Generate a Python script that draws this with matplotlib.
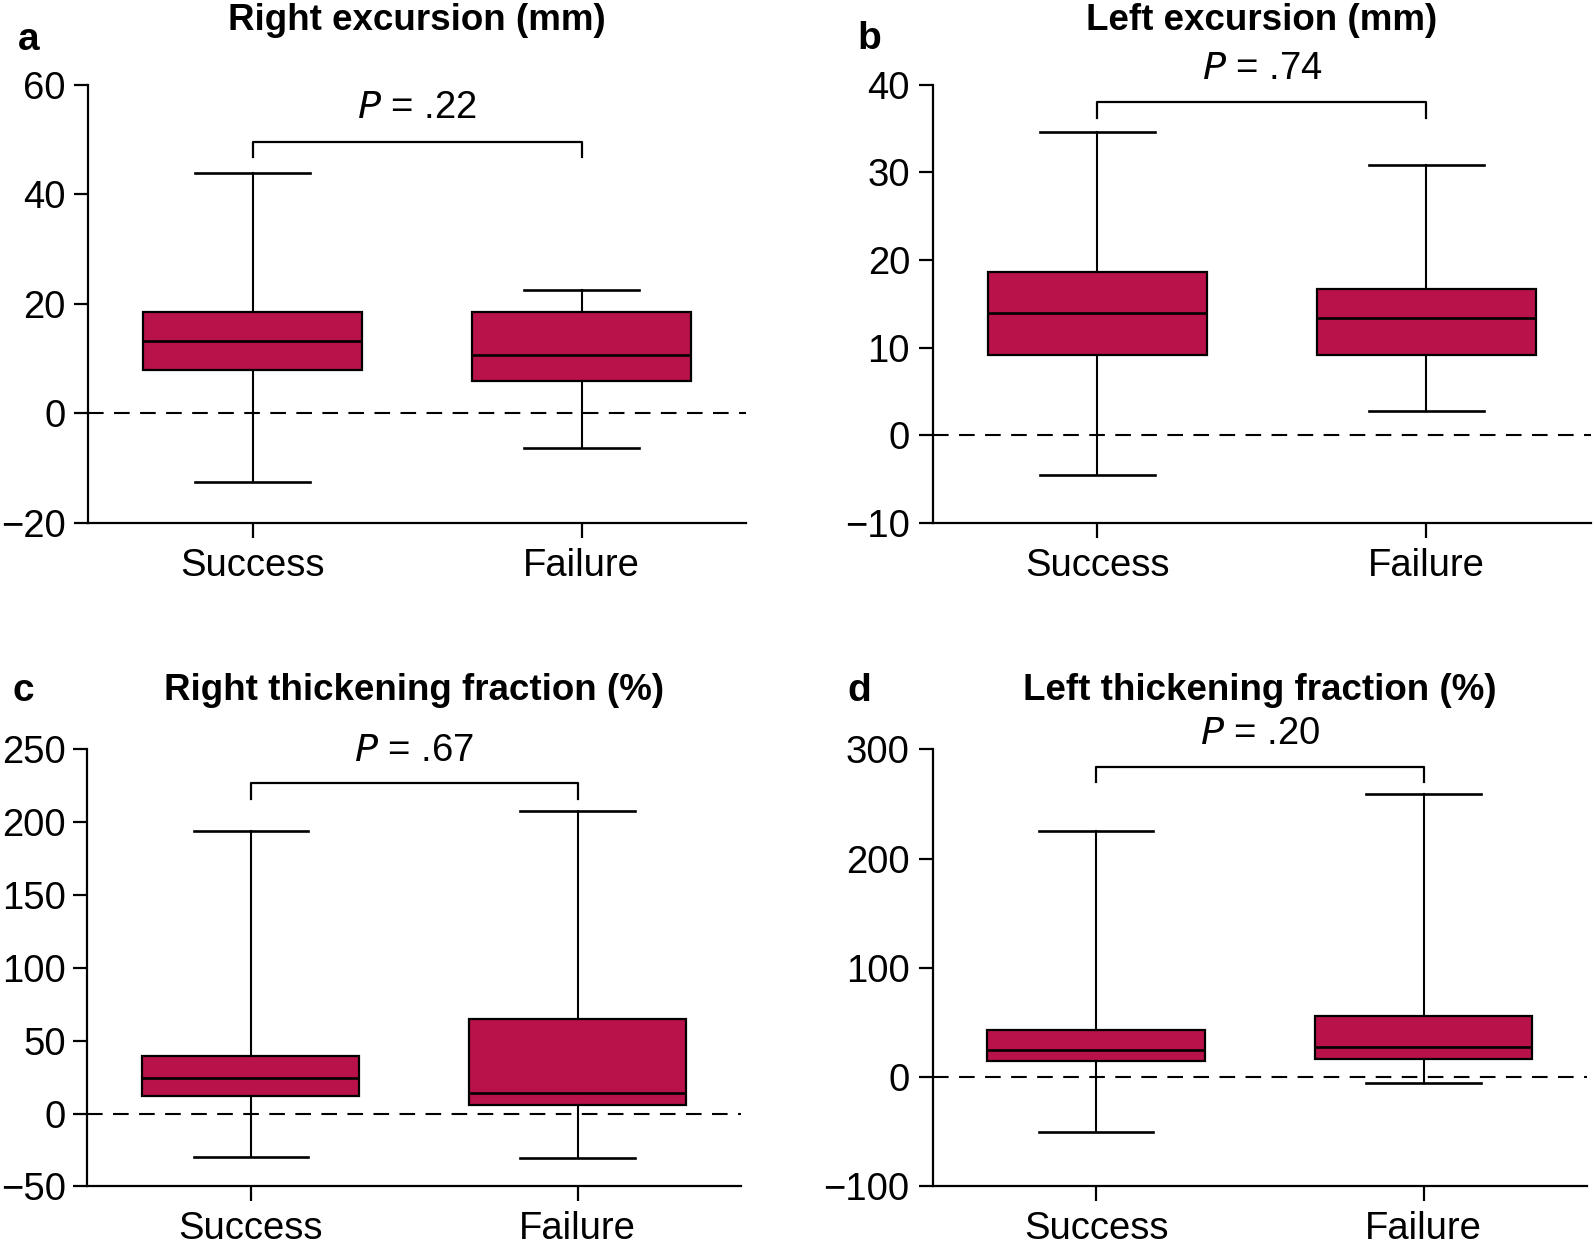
import matplotlib
matplotlib.use("Agg")
import matplotlib.pyplot as plt

plt.rcParams['font.family'] = ['Liberation Sans', 'DejaVu Sans']

groups = ["Success", "Failure"]

titles = ["Right excursion (mm)", "Left excursion (mm)",
          "Right thickening fraction (%)", "Left thickening fraction (%)"]
panel_letters = ["a", "b", "c", "d"]
p_labels = [".22", ".74", ".67", ".20"]

# box stats per panel: [Success, Failure]
whislo = [[-12.6, -6.3], [-4.5, 2.8], [-30.0, -30.8], [-50.3, -5.2]]
q1 =     [[7.9, 6.0], [9.15, 9.15], [11.8, 5.8], [15.1, 16.1]]
med =    [[13.25, 10.7], [14.0, 13.35], [24.1, 14.3], [24.6, 27.8]]
q3 =     [[18.5, 18.5], [18.6, 16.7], [39.7, 64.6], [43.2, 56.3]]
whishi = [[43.9, 22.6], [34.6, 30.8], [194.0, 207.3], [225.5, 259.0]]

yticks = [[-20, 0, 20, 40, 60], [-10, 0, 10, 20, 30, 40],
          [-50, 0, 50, 100, 150, 200, 250], [-100, 0, 100, 200, 300]]
ylims = [(-20, 60), (-10, 40), (-50, 250), (-100, 300)]

bracket_y = [49.5, 38.0, 226.8, 284.0]
bracket_drop = [46.8, 36.2, 215.8, 270.0]
p_text_y = [55.7, 41.8, 248.8, 313.9]

box_color = "#B9124A"

fig = plt.figure(figsize=(15.94, 12.45), dpi=100)
W, H = 1594.0, 1245.0
axes_rects = [
    (88.3 / W, 0.5799, 657.7 / W, 0.3522),
    (933.0 / W, 0.5799, 657.7 / W, 0.3522),
    (87.3 / W, 0.0471, 653.8 / W, 0.3511),
    (932.5 / W, 0.0471, 654.8 / W, 0.3511),
]
title_y = [1.146, 1.146, 1.134, 1.134]
letter_pos = [(18 / W, 1 - 40 / H), (857 / W, 1 - 39 / H),
              (12 / W, 1 - 691 / H), (847 / W, 1 - 691 / H)]
ypads = [6.5, 6.5, 5.5, 6.5]

for i in range(4):
    ax = fig.add_axes(axes_rects[i])
    stats = []
    for j, g in enumerate(groups):
        stats.append(dict(label=g, whislo=whislo[i][j], q1=q1[i][j], med=med[i][j],
                          q3=q3[i][j], whishi=whishi[i][j], fliers=[]))
    ax.bxp(stats, positions=[0, 1], widths=0.665, patch_artist=True,
           showfliers=False, capwidths=0.35,
           boxprops=dict(facecolor=box_color, edgecolor="black", linewidth=1.6),
           medianprops=dict(color="black", linewidth=1.9),
           whiskerprops=dict(color="black", linewidth=1.5),
           capprops=dict(color="black", linewidth=1.9))
    ax.axhline(0, color="black", linewidth=1.5, dashes=(7.5, 5), zorder=0.5)
    ax.set_xlim(-0.5, 1.5)
    ax.set_ylim(*ylims[i])
    ax.set_yticks(yticks[i])
    ax.set_xticks([0, 1])
    ax.set_xticklabels(groups)
    for s in ["top", "right"]:
        ax.spines[s].set_visible(False)
    for s in ["left", "bottom"]:
        ax.spines[s].set_linewidth(1.6)
    ax.tick_params(axis="y", length=10, width=1.6, pad=ypads[i], labelsize=27.5)
    ax.tick_params(axis="x", length=11, width=1.6, pad=7, labelsize=27.5)
    # significance bracket
    ax.plot([0, 0, 1, 1], [bracket_drop[i], bracket_y[i], bracket_y[i], bracket_drop[i]],
            color="black", linewidth=1.6, clip_on=False)
    ax.text(0.5, p_text_y[i], "$\\it{P}$ = " + p_labels[i], ha="center", va="center",
            fontsize=27.5, clip_on=False)
    ax.text(0.5, title_y[i], titles[i], transform=ax.transAxes, ha="center",
            va="center", fontsize=26.5, fontweight="bold")
    fig.text(letter_pos[i][0], letter_pos[i][1], panel_letters[i], ha="left",
             va="center", fontsize=28, fontweight="bold")

fig.savefig("out.png", dpi=100)
